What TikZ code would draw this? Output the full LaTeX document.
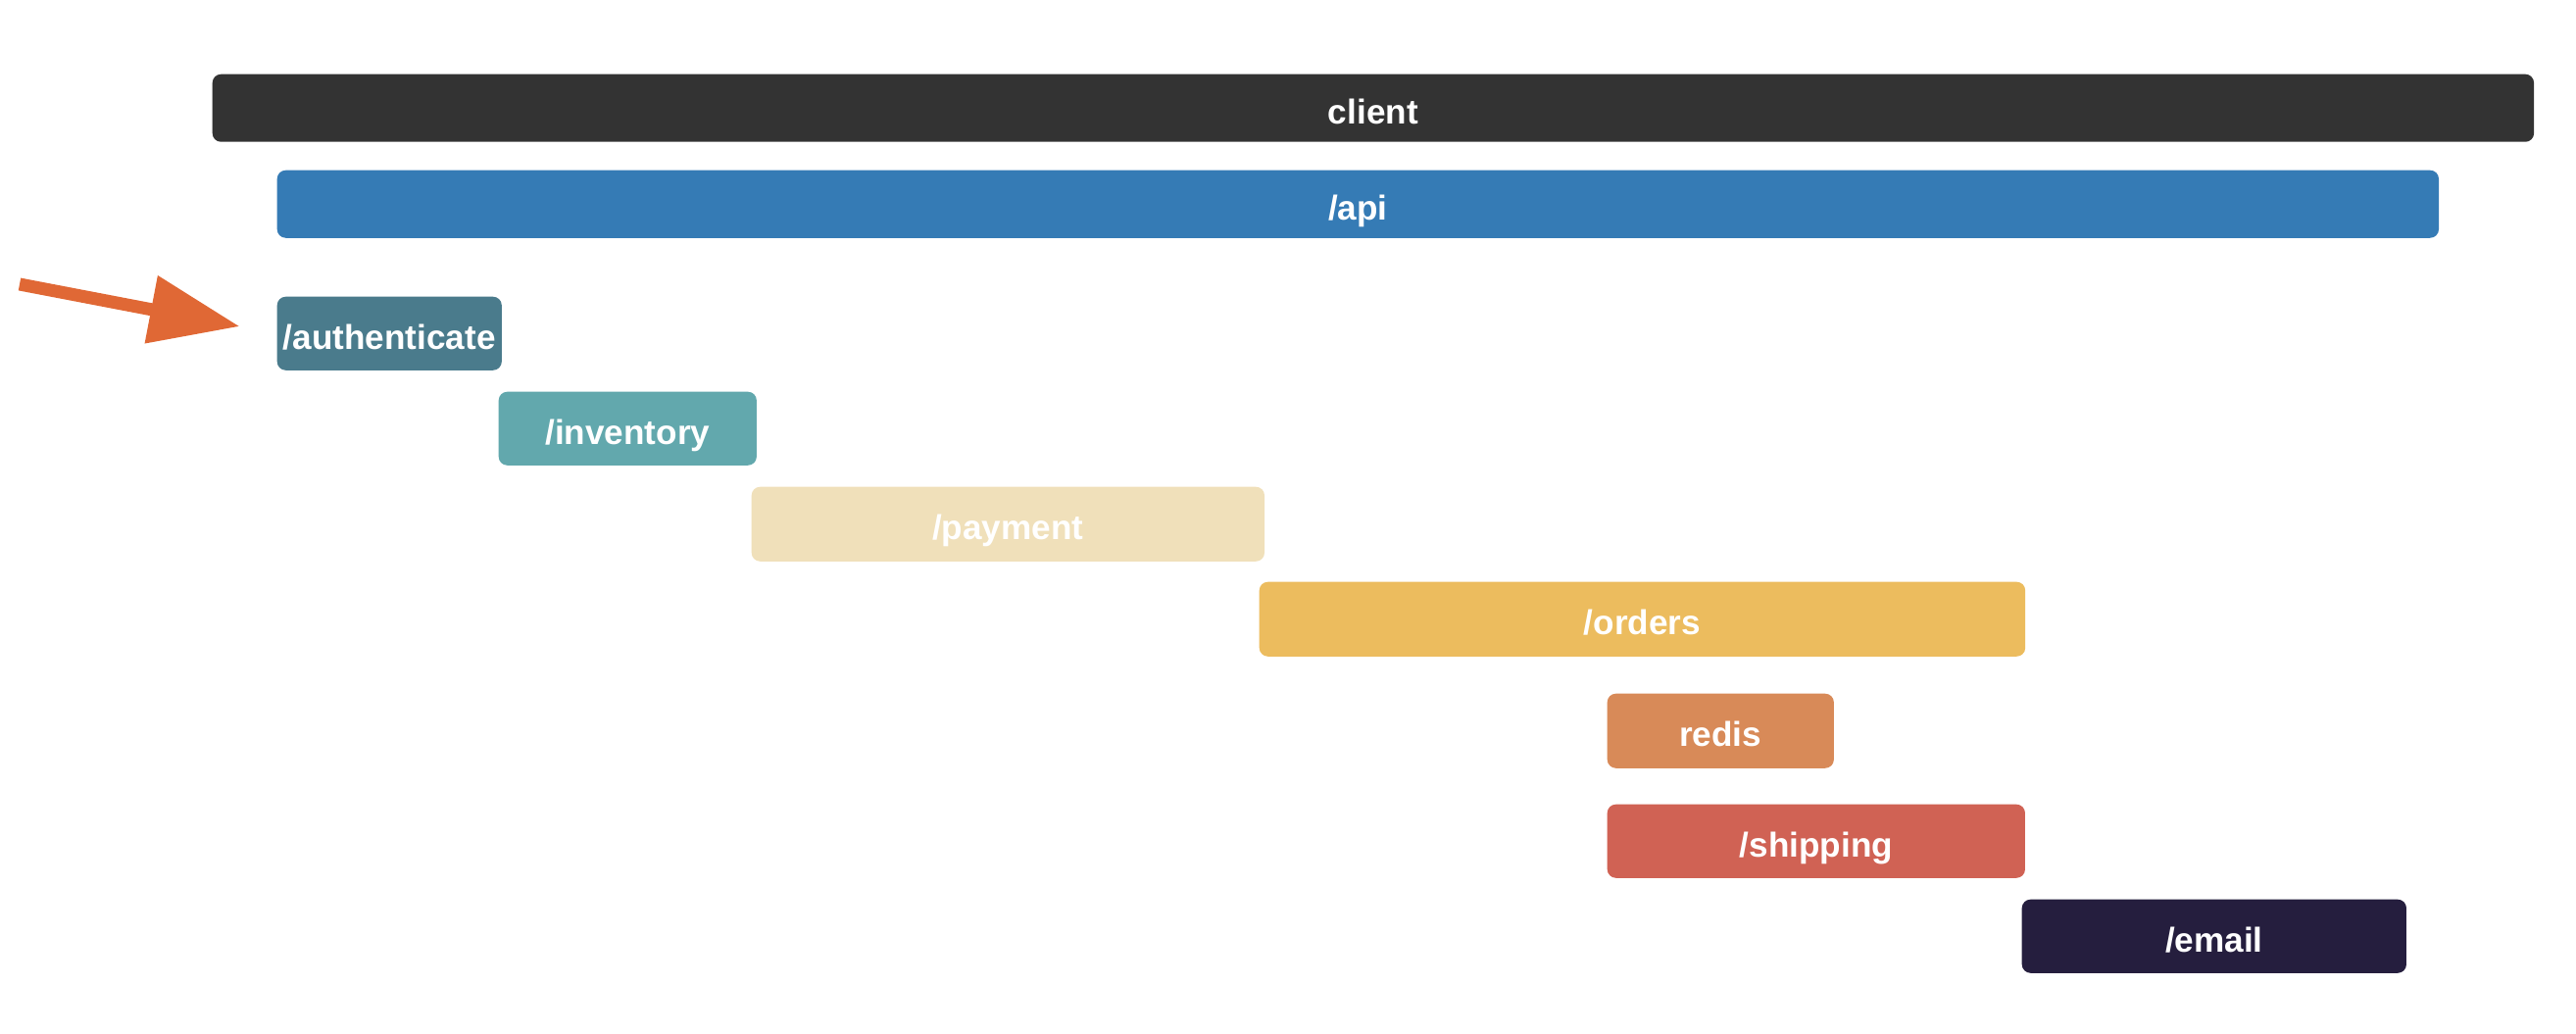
\documentclass[tikz,border=0pt]{standalone}
\usepackage{fontspec}
\setmainfont{Liberation Sans}
\usetikzlibrary{arrows.meta,positioning}

\definecolor{clientgray}{HTML}{333333}
\definecolor{apiblue}{HTML}{357BB5}
\definecolor{authteal}{HTML}{4A7B8C}
\definecolor{invteal}{HTML}{62A8AD}
\definecolor{paysand}{HTML}{F0E0BA}
\definecolor{ordgold}{HTML}{ECBC5E}
\definecolor{redisorange}{HTML}{D88A58}
\definecolor{shipred}{HTML}{D06254}
\definecolor{emailnavy}{HTML}{251E3E}
\definecolor{pointer}{HTML}{E06835}

\begin{document}
\begin{tikzpicture}[
  x=0.01cm, y=-0.01cm,
  span/.style={
    rectangle,
    draw=none,
    anchor=north west,
    inner sep=0pt,
    align=center,
    text=white,
    rounded corners=2.5pt,
    text height=10pt,
    text depth=0.8pt,
    font=\fontsize{10}{12}\selectfont\bfseries
  },
  pointerarrow/.style={
    -{Triangle[length=0.92cm, width=0.67cm]},
    line width=0.13cm,
    draw=pointer
  }
]
\useasboundingbox (0,0) rectangle (2628,1054);

% --- outer spans ---
\node[span, fill=clientgray, minimum width=23.67cm, minimum height=0.69cm] (client) at (216,75) {client};
\node[span, fill=apiblue, minimum width=22.04cm, minimum height=0.69cm] (api) at (282,173) {/api};

% --- service calls ---
\node[span, fill=authteal, minimum width=2.29cm, minimum height=0.75cm] (auth) at (282,302) {/authenticate};
\node[span, fill=invteal, minimum width=2.63cm, minimum height=0.75cm] (inventory) at (508,399) {/inventory};
\node[span, fill=paysand, minimum width=5.23cm, minimum height=0.76cm] (payment) at (766,496) {/payment};
\node[span, fill=ordgold, minimum width=7.81cm, minimum height=0.76cm] (orders) at (1284,593) {/orders};
\node[span, fill=redisorange, minimum width=2.31cm, minimum height=0.76cm] (redis) at (1639,707) {redis};
\node[span, fill=shipred, minimum width=4.26cm, minimum height=0.75cm] (shipping) at (1639,820) {/shipping};
\node[span, fill=emailnavy, minimum width=3.92cm, minimum height=0.75cm] (email) at (2062,917) {/email};

% pointer to the first call
\coordinate (tail) at (20,290);
\draw[pointerarrow, shorten >=0.38cm] (tail) -- (auth.west);

\end{tikzpicture}
\end{document}
